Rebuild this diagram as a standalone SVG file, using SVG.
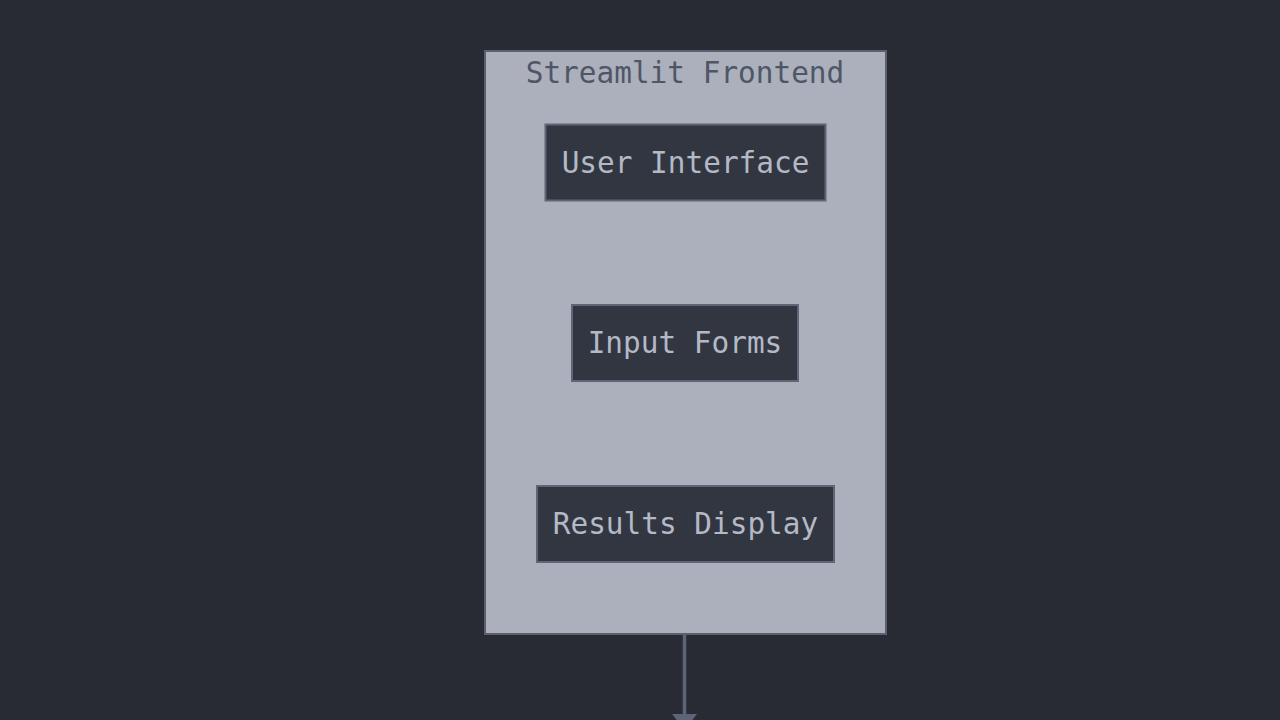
<svg xmlns="http://www.w3.org/2000/svg" width="1280" height="720" viewBox="0 0 1280 720">
<defs>
<style>
.node rect{fill:#323641;stroke:#5f6577;stroke-width:2}
.node text{fill:#b4b9c6;font-family:"DejaVu Sans Mono",monospace;font-size:29.4px;text-anchor:middle}
.title{fill:#4f5666;font-family:"DejaVu Sans Mono",monospace;font-size:29.4px;text-anchor:middle}
.edge{stroke:#5d6477;stroke-width:3.5;fill:none}
</style>
</defs>
<rect width="1280" height="720" fill="#282b34"/>
<g id="streamlit-frontend">
<rect x="485" y="51" width="401" height="583" fill="#abb0bc" stroke="#5b6070" stroke-width="2"/>
<text class="title" x="685" y="83">Streamlit Frontend</text>
</g>
<g id="user-interface" class="node">
<rect x="545.500" y="124.500" width="280" height="76"/>
<text x="685.500" y="173">User Interface</text>
</g>
<g id="input-forms" class="node">
<rect x="572" y="305" width="226" height="76"/>
<text x="685" y="353">Input Forms</text>
</g>
<g id="results-display" class="node">
<rect x="537" y="486" width="297" height="76"/>
<text x="685.500" y="534">Results Display</text>
</g>
<g id="connectors">
<line class="edge" x1="684.500" y1="635" x2="684.500" y2="715"/>
<path d="M672,714 L697,714 L684.500,730 z" fill="#5d6477"/>
</g>
</svg>
